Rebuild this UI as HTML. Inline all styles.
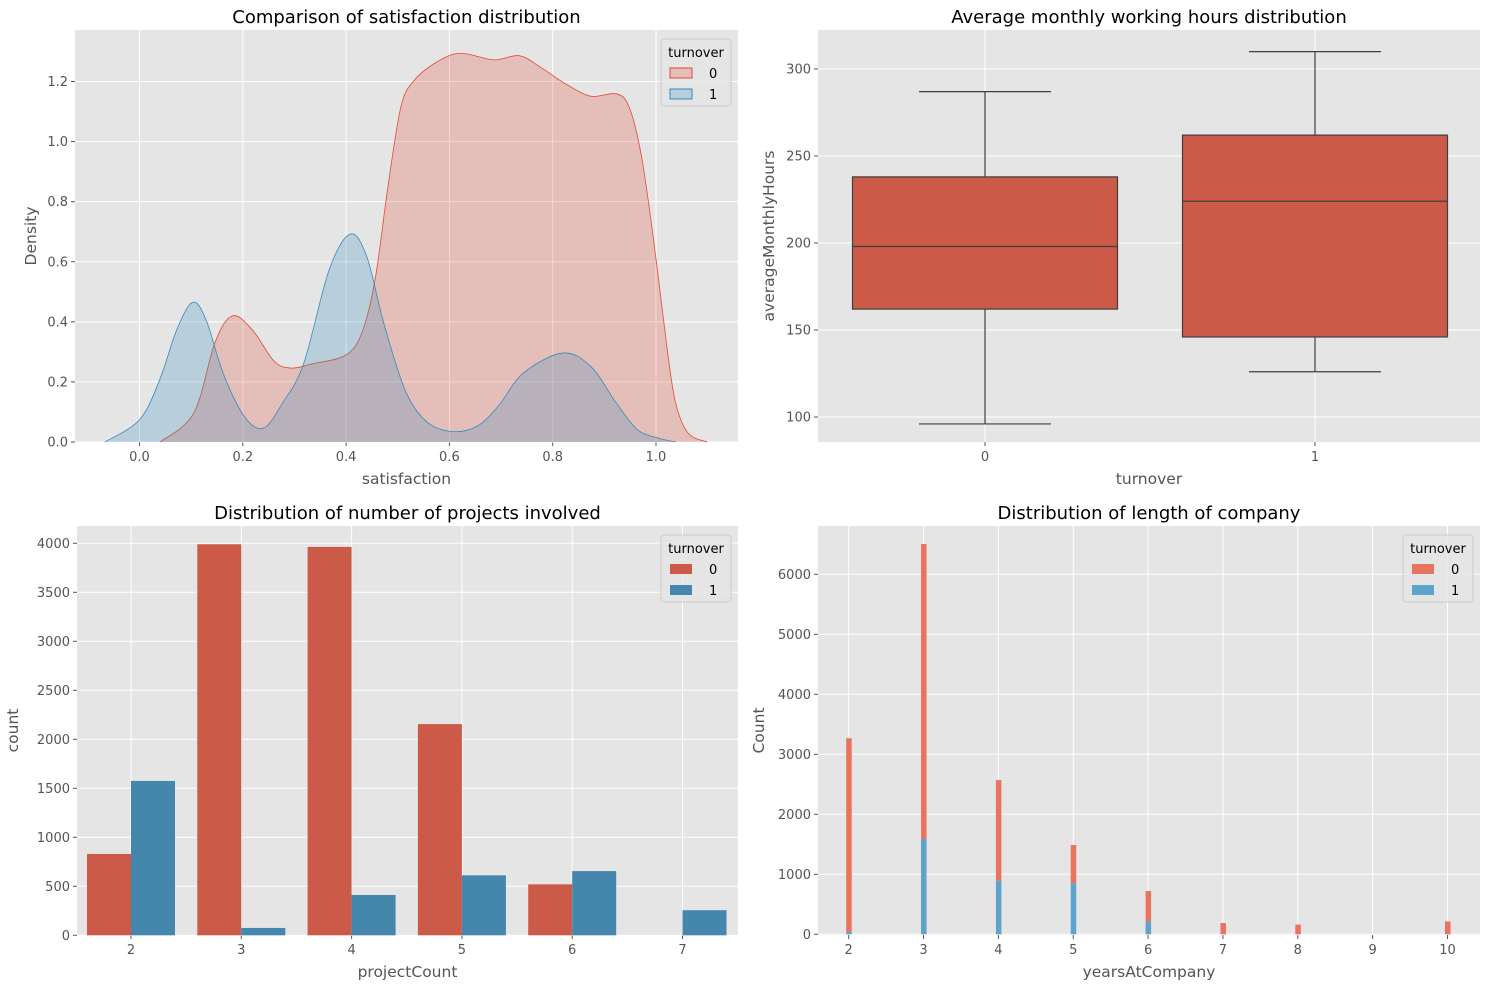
<!DOCTYPE html>
<html><head><meta charset="utf-8">
<style>
body{margin:0;background:#fff;}
svg{display:block;font-family:"DejaVu Sans","Liberation Sans",sans-serif;}
.tick{fill:#555;font-size:13px;}
.lab{fill:#555;font-size:15.5px;}
.title{fill:#000;font-size:18px;}
</style></head>
<body>
<svg id="fig" width="1489" height="989" viewBox="0 0 1489 989"></svg>
<script>
// ---- data ----
const kdeX0=[0.04,0.105,0.146,0.18,0.22,0.26,0.293,0.334,0.4,0.432,0.457,0.481,0.506,0.53,0.571,0.62,0.686,0.735,0.776,0.825,0.874,0.923,0.948,0.972,0.997,1.021,1.038,1.062,1.099];
const kdeY0=[0,0.096,0.33,0.42,0.37,0.27,0.246,0.26,0.29,0.37,0.55,0.85,1.115,1.20,1.26,1.294,1.272,1.286,1.248,1.192,1.151,1.159,1.115,0.95,0.65,0.318,0.13,0.03,0];
const kdeX1=[-0.067,0.0,0.039,0.072,0.103,0.129,0.162,0.203,0.24,0.277,0.318,0.367,0.408,0.44,0.473,0.514,0.555,0.604,0.653,0.694,0.743,0.819,0.874,0.923,0.964,1.005,1.038];
const kdeY1=[0,0.074,0.207,0.373,0.465,0.406,0.229,0.085,0.046,0.13,0.262,0.572,0.692,0.617,0.395,0.174,0.069,0.035,0.052,0.118,0.229,0.296,0.251,0.13,0.041,0.013,0];
const kdeXTicks=[0.0,0.2,0.4,0.6,0.8,1.0];
const kdeYTicks=[0.0,0.2,0.4,0.6,0.8,1.0,1.2];

const boxCats=["0","1"];
const boxLow=[96,126];
const boxQ1=[162,146];
const boxMed=[198,224];
const boxQ3=[238,262];
const boxHigh=[287,310];
const boxYTicks=[100,150,200,250,300];

const projCats=[2,3,4,5,6,7];
const projCount0=[830,3990,3963,2155,520,0];
const projCount1=[1575,75,411,612,655,256];
const projYTicks=[0,500,1000,1500,2000,2500,3000,3500,4000];

const yearCats=[2,3,4,5,6,7,8,10];
const yearCount0=[3227,4915,1677,638,505,188,162,214];
const yearCount1=[40,1590,893,850,217,0,0,0];
const yearXTicks=[2,3,4,5,6,7,8,9,10];
const yearYTicks=[0,1000,2000,3000,4000,5000,6000];

const NS="http://www.w3.org/2000/svg";
const svg=document.getElementById('fig');
function mk(tag,attrs,parent){const e=document.createElementNS(NS,tag);for(const k in attrs)e.setAttribute(k,attrs[k]);(parent||svg).appendChild(e);return e;}
function txt(s,attrs,parent){const e=mk('text',attrs,parent);e.textContent=s;return e;}
function lin(d0,d1,r0,r1){return v=>r0+(v-d0)*(r1-r0)/(d1-d0);}

function axesBg(x0,y0,x1,y1,name){
  const r=mk('rect',{x:x0,y:y0,width:x1-x0,height:y1-y0,fill:'#E5E5E5'});
  
  
}
function grid(x0,y0,x1,y1,xs,ys,xf,yf,xl,yl){
  xs.forEach((v,i)=>{const X=xf(v);
    mk('line',{x1:X,x2:X,y1:y0,y2:y1,stroke:'#fff','stroke-width':1});
    mk('line',{x1:X,x2:X,y1:y1,y2:y1+4,stroke:'#555','stroke-width':1});
    const t=txt(xl[i],{x:X,y:y1+19,'text-anchor':'middle',class:'tick'});
    
    
  });
  ys.forEach((v,i)=>{const Y=yf(v);
    mk('line',{x1:x0,x2:x1,y1:Y,y2:Y,stroke:'#fff','stroke-width':1});
    mk('line',{x1:x0-4,x2:x0,y1:Y,y2:Y,stroke:'#555','stroke-width':1});
    const t=txt(yl[i],{x:x0-7,y:Y+4.5,'text-anchor':'end',class:'tick'});
    
    
  });
}
function labels(x0,y0,x1,y1,title,xlab,ylab,ylx,prefix){
  const cx=(x0+x1)/2;
  let t=txt(title,{x:cx,y:y0-7,'text-anchor':'middle',class:'title'});
  
  
  t=txt(xlab,{x:cx,y:y1+42,'text-anchor':'middle',class:'lab'});
  
  
  const cy=(y0+y1)/2;
  t=txt(ylab,{x:ylx,y:cy,'text-anchor':'middle',class:'lab',transform:`rotate(-90 ${ylx} ${cy})`});
  
  
}
function legend(x,y,items,name){
  const g=mk('g',{});
  
  
  mk('rect',{x:x,y:y,width:70,height:67,rx:3,fill:'#E5E5E5',stroke:'#ccc','fill-opacity':0.8},g);
  txt('turnover',{x:x+35,y:y+18,'text-anchor':'middle','font-size':'13px',fill:'#000'},g);
  items.forEach((it,i)=>{
    const yy=y+29+i*21;
    mk('rect',{x:x+9,y:yy,width:22,height:10,fill:it.fill,stroke:it.stroke||'none','stroke-width':1},g);
    txt(it.label,{x:x+48,y:yy+10,'font-size':'13px',fill:'#000'},g);
  });
}
function smooth(pts){
  let d=`M${pts[0][0]},${pts[0][1]}`;
  for(let i=0;i<pts.length-1;i++){
    const p0=pts[i-1]||pts[i],p1=pts[i],p2=pts[i+1],p3=pts[i+2]||p2;
    const c1=[p1[0]+(p2[0]-p0[0])/6,p1[1]+(p2[1]-p0[1])/6];
    const c2=[p2[0]-(p3[0]-p1[0])/6,p2[1]-(p3[1]-p1[1])/6];
    d+=` C${c1[0]},${c1[1]} ${c2[0]},${c2[1]} ${p2[0]},${p2[1]}`;
  }
  return d;
}

// ---- Panel 1: KDE ----
{const x0=75,y0=30,x1=738,y1=442;
 axesBg(x0,y0,x1,y1,'kde-axes');
 const xf=lin(0,1,139.5,656),yf=lin(0,1.2,442,81.5);
 grid(x0,y0,x1,y1,kdeXTicks,kdeYTicks,xf,yf,kdeXTicks.map(v=>v.toFixed(1)),kdeYTicks.map(v=>v.toFixed(1)));
 [[kdeX0,kdeY0,'#E24A33','kde-turnover-0'],[kdeX1,kdeY1,'#348ABD','kde-turnover-1']].forEach(([xs,ys,c,n])=>{
   const pts=xs.map((v,i)=>[xf(v),yf(ys[i])]);
   const d=smooth(pts);
   const f=mk('path',{d:d+` L${pts[pts.length-1][0]},${yf(0)} L${pts[0][0]},${yf(0)} Z`,fill:c,'fill-opacity':0.25,stroke:'none'});
   
   
   const l=mk('path',{d:d,fill:'none',stroke:c,'stroke-width':0.8});
   
   
 });
 labels(x0,y0,x1,y1,'Comparison of satisfaction distribution','satisfaction','Density',36,'kde');
 legend(661,39,[{label:'0',fill:'rgba(226,74,51,0.25)',stroke:'#E24A33'},{label:'1',fill:'rgba(52,138,189,0.25)',stroke:'#348ABD'}],'kde-legend');
}

// ---- Panel 2: Boxplot ----
{const x0=818,y0=30,x1=1480,y1=442;
 axesBg(x0,y0,x1,y1,'boxplot-axes');
 const xf=lin(0,1,985,1315),yf=lin(100,300,417,69);
 grid(x0,y0,x1,y1,[0,1],boxYTicks,xf,yf,boxCats,boxYTicks.map(String));
 const hw=132.5;
 boxCats.forEach((c,i)=>{
   const X=xf(i);
   const g=mk('g',{});
   
   
   const st={stroke:'#3f3f3f','stroke-width':1.2};
   mk('line',Object.assign({x1:X,x2:X,y1:yf(boxHigh[i]),y2:yf(boxQ3[i])},st),g);
   mk('line',Object.assign({x1:X,x2:X,y1:yf(boxQ1[i]),y2:yf(boxLow[i])},st),g);
   mk('line',Object.assign({x1:X-66,x2:X+66,y1:yf(boxHigh[i]),y2:yf(boxHigh[i])},st),g);
   mk('line',Object.assign({x1:X-66,x2:X+66,y1:yf(boxLow[i]),y2:yf(boxLow[i])},st),g);
   mk('rect',Object.assign({x:X-hw,y:yf(boxQ3[i]),width:2*hw,height:yf(boxQ1[i])-yf(boxQ3[i]),fill:'#CC5A49'},st),g);
   mk('line',Object.assign({x1:X-hw,x2:X+hw,y1:yf(boxMed[i]),y2:yf(boxMed[i])},st),g);
 });
 labels(x0,y0,x1,y1,'Average monthly working hours distribution','turnover','averageMonthlyHours',774,'boxplot');
}

// ---- Panel 3: countplot ----
{const x0=77,y0=526,x1=738,y1=935;
 axesBg(x0,y0,x1,y1,'projects-axes');
 const xf=lin(2,7,131,682.5),yf=lin(0,4000,935.3,543.3);
 grid(x0,y0,x1,y1,projCats,projYTicks,xf,yf,projCats.map(String),projYTicks.map(String));
 projCats.forEach((c,i)=>{
   const X=xf(c);
   if(projCount0[i]>0){
     const r=mk('rect',{x:X-44,y:yf(projCount0[i]),width:44,height:yf(0)-yf(projCount0[i]),fill:'#CC5A49'});
     
     
   }
   const r=mk('rect',{x:X,y:yf(projCount1[i]),width:44,height:yf(0)-yf(projCount1[i]),fill:'#4586AC'});
   
   
 });
 labels(x0,y0,x1,y1,'Distribution of number of projects involved','projectCount','count',18,'projects');
 legend(661,535,[{label:'0',fill:'#CC5A49'},{label:'1',fill:'#4586AC'}],'projects-legend');
}

// ---- Panel 4: stacked histogram ----
{const x0=818,y0=526,x1=1480,y1=935;
 axesBg(x0,y0,x1,y1,'years-axes');
 const xf=lin(2,10,848.7,1447.5),yf=lin(0,6000,934.3,574.3);
 grid(x0,y0,x1,y1,yearXTicks,yearYTicks,xf,yf,yearXTicks.map(String),yearYTicks.map(String));
 yearCats.forEach((c,i)=>{
   const X=xf(c)-2.5;
   const b=yf(yearCount1[i]);
   if(yearCount1[i]>0){
     const r=mk('rect',{x:X,y:b,width:5.5,height:yf(0)-b,fill:'#5EA3C9'});
     
     
   }
   const t=yf(yearCount1[i]+yearCount0[i]);
   const r=mk('rect',{x:X,y:t,width:5.5,height:b-t,fill:'#E8735F'});
   
   
 });
 labels(x0,y0,x1,y1,'Distribution of length of company','yearsAtCompany','Count',764,'years');
 legend(1403,535,[{label:'0',fill:'#E8735F'},{label:'1',fill:'#5EA3C9'}],'years-legend');
}
</script>
</body></html>
